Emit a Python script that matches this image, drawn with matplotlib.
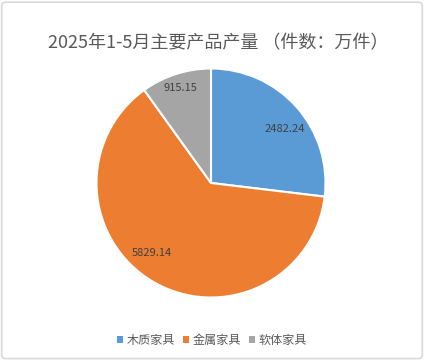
import numpy as np
import matplotlib.pyplot as plt
from matplotlib.patches import FancyBboxPatch, Patch

plt.rcParams['font.family'] = ['Noto Sans CJK SC', 'DejaVu Sans']

categories = ['木质家具', '金属家具', '软体家具']
values = [2482.24, 5829.14, 915.15]
colors = ['#5B9BD5', '#ED7D31', '#A5A5A5']
title = '2025年1-5月主要产品产量 （件数：万件）'

# data label placement (fraction of radius, angle shift in degrees), like Excel "best fit"
label_r = [0.80, 0.80, 0.87]
label_shift = [-5.5, -9.5, 0]

fig = plt.figure(figsize=(4.24, 3.6), dpi=100)
fig.patches.append(FancyBboxPatch((0.004, 0.004), 0.992, 0.99,
                                  boxstyle='round,pad=0,rounding_size=0.01',
                                  transform=fig.transFigure, fc='none',
                                  ec='#D9D9D9', lw=1.2, zorder=-1))

ax = fig.add_axes([96.5 / 424, 62.5 / 360, 229 / 424, 229 / 360])
wedges, _ = ax.pie(values, colors=colors, startangle=90, counterclock=False,
                   wedgeprops=dict(edgecolor='white', linewidth=1.5))
for w, v, r, s in zip(wedges, values, label_r, label_shift):
    ang = np.deg2rad((w.theta1 + w.theta2) / 2 + s)
    ax.text(r * np.cos(ang), r * np.sin(ang), f'{v:.2f}', ha='center', va='center',
            fontsize=8, color='#404040')
ax.set_xlim(-1, 1)
ax.set_ylim(-1, 1)
ax.set_aspect('equal')

fig.text(0.514, 0.88, title, ha='center', va='center', fontsize=13, color='#595959')

handles = [Patch(facecolor=c, edgecolor='none') for c in colors]
fig.legend(handles, categories, loc='center', bbox_to_anchor=(0.5, 0.055), ncol=3,
           frameon=False, fontsize=8.7, handlelength=0.5, handleheight=0.5,
           handletextpad=0.35, columnspacing=0.6, labelcolor='#595959')

fig.savefig('out.png', dpi=100)
